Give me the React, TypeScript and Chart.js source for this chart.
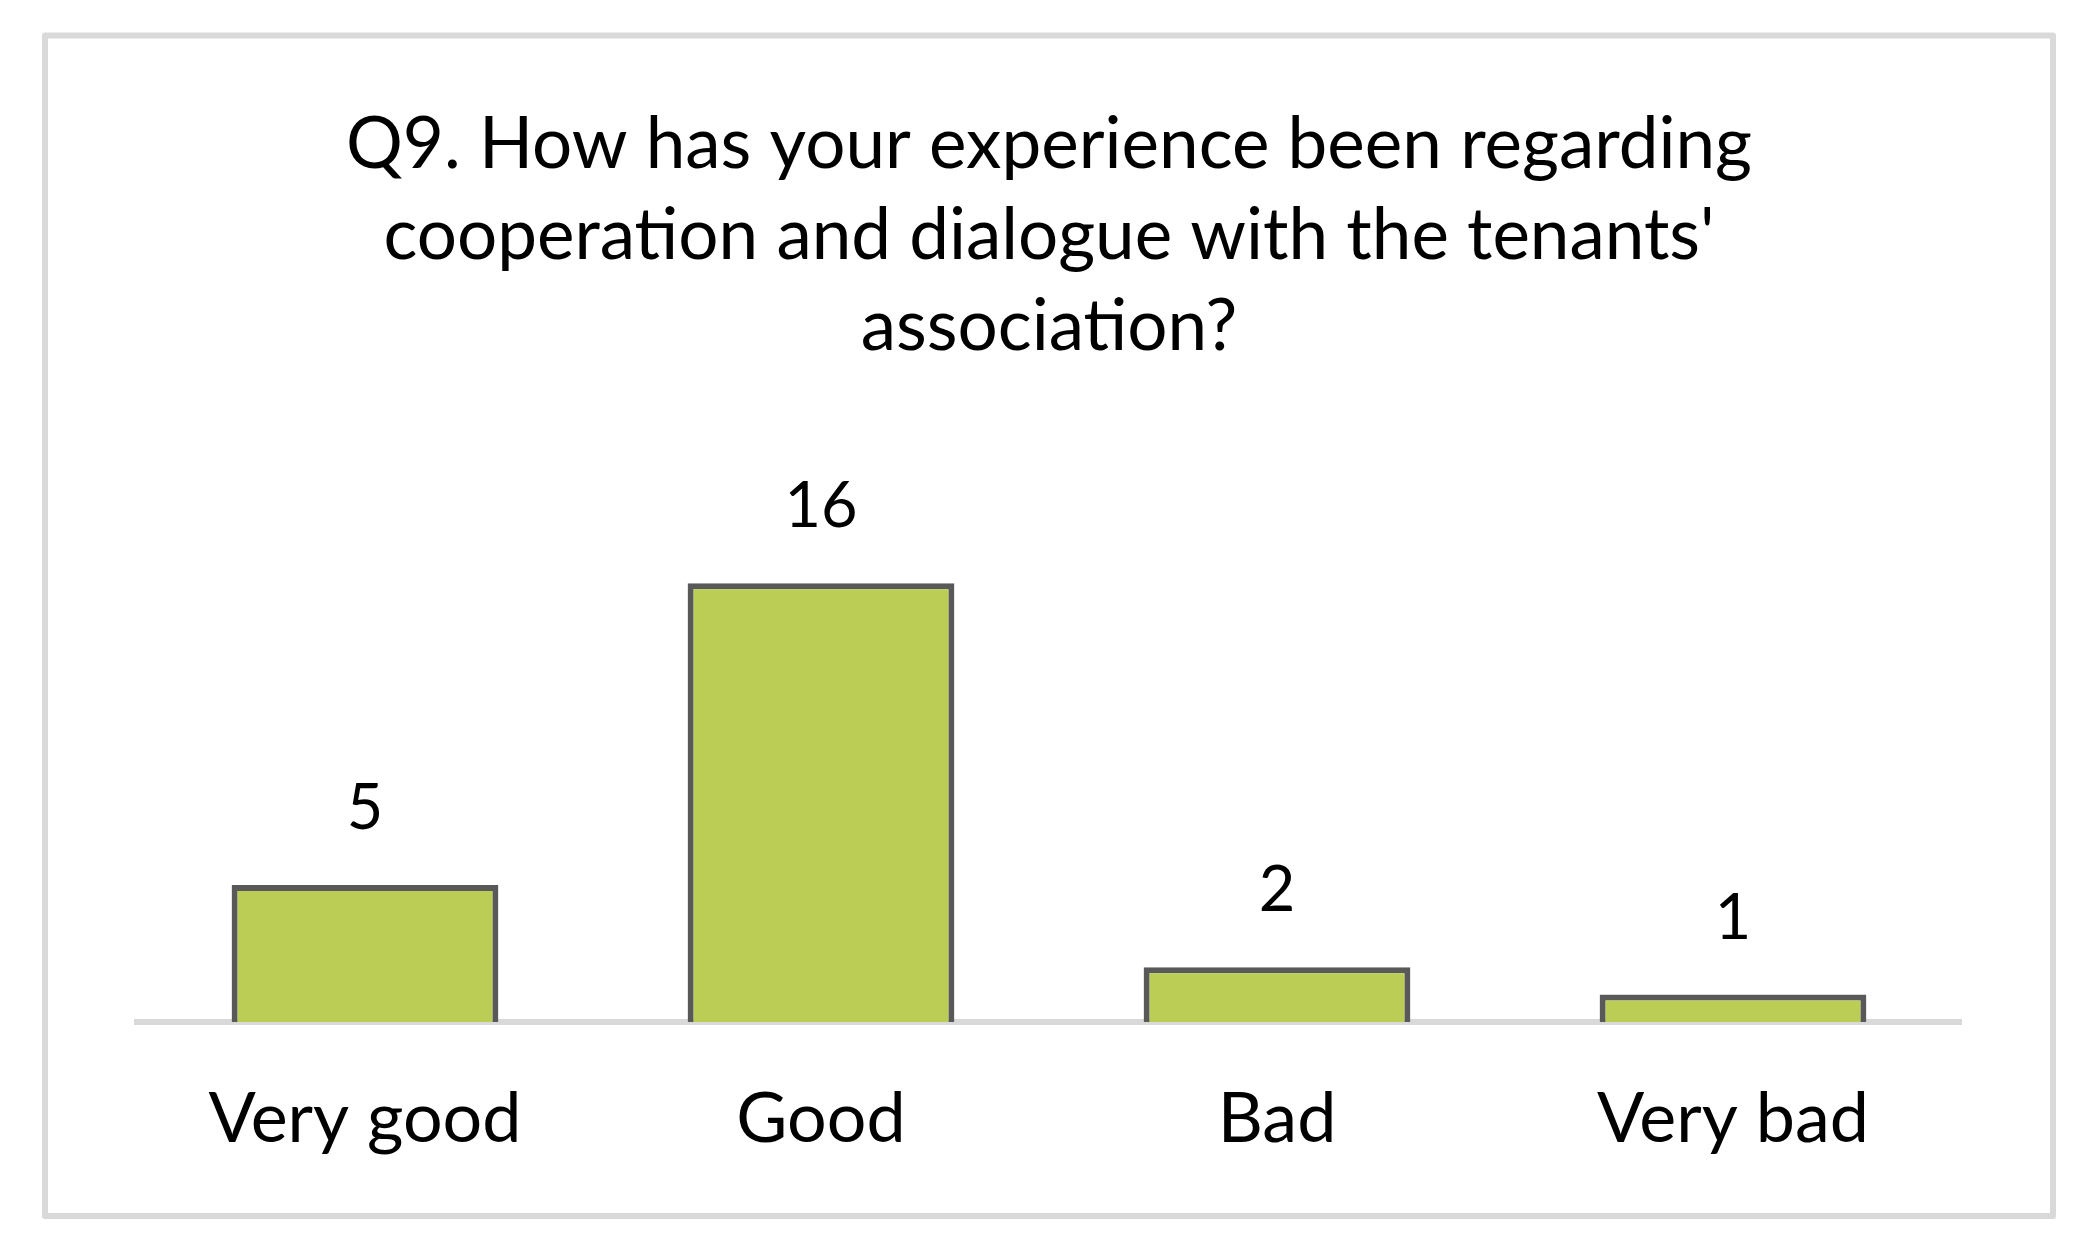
import React, { useEffect, useRef } from "react";
import { Chart, registerables } from "chart.js";

Chart.register(...registerables);

const titleLines = [
  "Q9. How has your experience been regarding",
  "cooperation and dialogue with the tenants'",
  "association?",
];
const categories = ["Very good", "Good", "Bad", "Very bad"];
const counts = [5, 16, 2, 1];

const FONT = "Lato, 'Open Sans', sans-serif";
const BAR_FILL = "#bbcd55";
const BAR_EDGE = "#595959";
const FRAME = "#d9d9d9";

const framePlugin = {
  id: "frame",
  beforeDraw(chart: any) {
    const ctx = chart.ctx;
    ctx.save();
    ctx.fillStyle = "#ffffff";
    ctx.fillRect(0, 0, chart.width, chart.height);
    ctx.strokeStyle = FRAME;
    ctx.lineWidth = 6;
    ctx.lineJoin = "round";
    ctx.strokeRect(45, 35.5, 2008, 1180.5);
    ctx.restore();
  },
};

const valueLabelPlugin = {
  id: "valueLabels",
  afterDatasetsDraw(chart: any) {
    const ctx = chart.ctx;
    const meta = chart.getDatasetMeta(0);
    const data = chart.data.datasets[0].data;
    ctx.save();
    ctx.font = `63px ${FONT}`;
    ctx.fillStyle = "#000000";
    ctx.textAlign = "center";
    ctx.textBaseline = "alphabetic";
    meta.data.forEach((bar: any, i: number) => {
      ctx.fillText(String(data[i]), bar.x, bar.y - 56);
    });
    ctx.restore();
  },
};

export default function App() {
  const ref = useRef<HTMLCanvasElement | null>(null);

  useEffect(() => {
    if (!ref.current) return;
    const chart = new Chart(ref.current, {
      type: "bar",
      data: {
        labels: categories,
        datasets: [
          {
            data: counts,
            backgroundColor: BAR_FILL,
            borderColor: BAR_EDGE,
            borderWidth: 6,
            categoryPercentage: 1,
            barPercentage: 0.585,
          },
        ],
      },
      options: {
        responsive: false,
        animation: false,
        devicePixelRatio: 1,
        layout: { padding: { left: 137, right: 130, top: 0, bottom: 38 } },
        plugins: {
          legend: { display: false },
          tooltip: { enabled: false },
          title: {
            display: true,
            text: titleLines,
            color: "#000000",
            font: { family: FONT, size: 71, weight: "normal", lineHeight: 1.28 },
            padding: { top: 100, bottom: 101 },
          },
        },
        scales: {
          x: {
            z: 1,
            grid: { display: false, drawTicks: false },
            border: { display: true, color: FRAME, width: 6 },
            ticks: {
              color: "#000000",
              padding: 55,
              font: { family: FONT, size: 70 },
            },
          },
          y: {
            display: false,
            min: 0,
            max: 20,
          },
        },
      },
      plugins: [framePlugin, valueLabelPlugin],
    });
    return () => chart.destroy();
  }, []);

  return (
    <div style={{ position: "fixed", left: 0, top: 0, width: 2091, height: 1254, background: "#fff" }}>
      <canvas ref={ref} width={2091} height={1254} style={{ display: "block" }} />
    </div>
  );
}
